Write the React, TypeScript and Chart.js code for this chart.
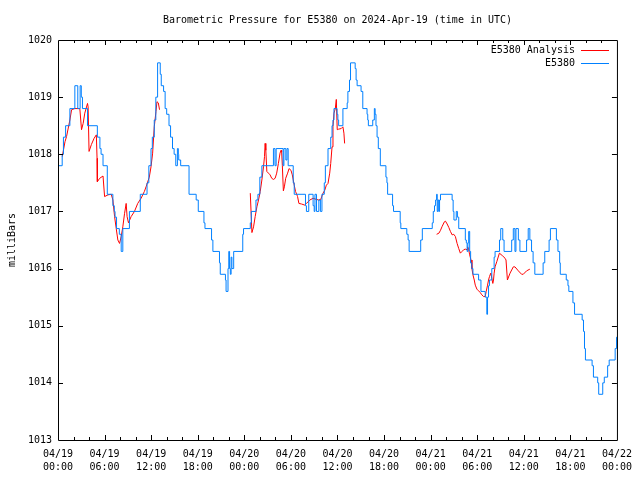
import { useEffect, useRef } from 'react';
import { Chart, registerables } from 'chart.js';

Chart.register(...registerables);

const FONT = "'DejaVu Sans Mono', 'Liberation Mono', monospace";

const chartTitle = 'Barometric Pressure for E5380 on 2024-Apr-19 (time in UTC)';
const yAxisLabel = 'milliBars';
const analysisLabel = 'E5380 Analysis';
const stationLabel = 'E5380';

// x in hours since 2024-04-19 00:00 UTC
const xTickHours = [0, 6, 12, 18, 24, 30, 36, 42, 48, 54, 60, 66, 72];
const xTickDates = ['04/19', '04/19', '04/19', '04/19', '04/20', '04/20', '04/20', '04/20', '04/21', '04/21', '04/21', '04/21', '04/22'];
const xTickTimes = ['00:00', '06:00', '12:00', '18:00', '00:00', '06:00', '12:00', '18:00', '00:00', '06:00', '12:00', '18:00', '00:00'];
const yTickValues = [1013, 1014, 1015, 1016, 1017, 1018, 1019, 1020];

// E5380 observations (value holds from each hour mark to the next)
const stationHours = [0, 0.54, 0.7, 0.98, 1.53, 2.17, 2.55, 2.85, 3.0, 3.15, 3.8, 5.07, 5.4, 5.55, 5.8, 6.35, 7.07, 7.25, 7.35, 7.54, 7.9, 8.14, 8.35, 9.2, 10.6, 11.47, 11.7, 11.98, 12.15, 12.4, 12.6, 12.83, 13.17, 13.3, 13.6, 13.8, 14.0, 14.3, 14.5, 14.75, 14.96, 15.17, 15.38, 15.5, 15.55, 15.8, 16.88, 17.8, 18.07, 18.8, 18.93, 19.78, 19.95, 20.8, 20.9, 21.57, 21.65, 21.9, 22.0, 22.1, 22.2, 22.3, 22.4, 22.63, 23.8, 23.9, 24.77, 24.9, 25.5, 25.75, 26.0, 26.26, 27.75, 27.95, 28.1, 29.0, 29.1, 29.35, 29.5, 29.65, 30.3, 30.43, 31.88, 32.0, 32.3, 32.86, 33.0, 33.1, 33.3, 33.6, 33.8, 34.0, 34.3, 34.44, 34.78, 35.13, 35.3, 35.42, 35.55, 35.95, 36.05, 36.15, 36.7, 37.25, 37.34, 37.55, 37.68, 38.28, 38.4, 38.53, 39.04, 39.26, 39.81, 39.9, 39.98, 40.54, 40.75, 40.85, 40.96, 41.1, 41.26, 41.52, 42.24, 42.37, 42.46, 43.1, 43.22, 44.08, 44.16, 44.93, 45.1, 45.23, 46.72, 46.93, 48.21, 48.34, 48.5, 48.64, 48.77, 48.85, 48.95, 49.05, 49.15, 49.27, 50.77, 50.9, 51.0, 51.3, 51.45, 51.62, 52.47, 52.6, 52.7, 52.8, 52.9, 53.03, 53.15, 53.3, 53.45, 54.18, 54.48, 55.03, 55.24, 55.33, 55.46, 55.58, 55.88, 56.18, 56.3, 56.87, 57.03, 57.29, 57.46, 58.44, 58.65, 58.86, 58.99, 59.3, 59.5, 60.36, 60.57, 60.78, 61.0, 61.2, 61.42, 62.49, 62.7, 63.26, 63.43, 64.2, 64.4, 64.62, 64.7, 65.47, 65.69, 65.8, 66.33, 66.54, 67.52, 67.69, 67.82, 67.94, 68.8, 68.97, 69.52, 69.65, 70.17, 70.37, 70.8, 71.0, 71.77, 71.95, 72.0];
const stationPressure = [1017.8, 1018.0, 1018.3, 1018.5, 1018.8, 1019.2, 1018.8, 1019.2, 1019.0, 1018.8, 1018.5, 1018.3, 1018.1, 1018.0, 1017.8, 1017.3, 1017.1, 1017.0, 1016.9, 1016.7, 1016.6, 1016.3, 1016.7, 1017.0, 1017.3, 1017.5, 1017.8, 1018.1, 1018.3, 1018.6, 1019.0, 1019.6, 1019.4, 1019.2, 1019.1, 1018.8, 1018.7, 1018.5, 1018.3, 1018.1, 1018.0, 1017.8, 1018.1, 1018.0, 1017.9, 1017.8, 1017.3, 1017.2, 1017.0, 1016.8, 1016.7, 1016.5, 1016.3, 1016.1, 1015.9, 1015.8, 1015.6, 1016.0, 1016.3, 1016.0, 1015.9, 1016.2, 1016.0, 1016.3, 1016.6, 1016.7, 1016.8, 1017.0, 1017.2, 1017.3, 1017.6, 1017.8, 1018.1, 1017.8, 1018.1, 1017.8, 1018.1, 1017.9, 1018.1, 1017.8, 1017.5, 1017.3, 1017.1, 1017.0, 1017.3, 1017.1, 1017.0, 1017.3, 1017.0, 1017.2, 1017.0, 1017.3, 1017.5, 1017.8, 1018.1, 1018.3, 1018.5, 1018.6, 1018.8, 1018.7, 1018.6, 1018.5, 1018.8, 1018.9, 1019.1, 1019.3, 1019.6, 1019.5, 1019.3, 1019.2, 1019.1, 1018.8, 1018.7, 1018.6, 1018.5, 1018.6, 1018.8, 1018.7, 1018.5, 1018.3, 1018.1, 1017.8, 1017.6, 1017.5, 1017.3, 1017.1, 1017.0, 1016.8, 1016.7, 1016.6, 1016.5, 1016.3, 1016.5, 1016.7, 1016.8, 1017.0, 1017.1, 1017.2, 1017.3, 1017.0, 1017.2, 1017.0, 1017.2, 1017.3, 1017.2, 1017.0, 1016.85, 1017.0, 1016.9, 1016.7, 1016.5, 1016.45, 1016.3, 1016.45, 1016.65, 1016.3, 1016.1, 1016.0, 1015.9, 1015.8, 1015.6, 1015.5, 1015.2, 1015.5, 1015.7, 1015.8, 1016.0, 1016.2, 1016.3, 1016.5, 1016.7, 1016.5, 1016.3, 1016.5, 1016.7, 1016.3, 1016.7, 1016.5, 1016.3, 1016.5, 1016.7, 1016.5, 1016.3, 1016.1, 1015.9, 1016.1, 1016.3, 1016.5, 1016.7, 1016.5, 1016.3, 1016.1, 1015.9, 1015.8, 1015.7, 1015.6, 1015.4, 1015.2, 1015.1, 1014.9, 1014.6, 1014.4, 1014.3, 1014.1, 1014.0, 1013.8, 1014.0, 1014.1, 1014.3, 1014.4, 1014.6, 1014.8, 1014.8];

// E5380 Analysis (null = no analysis data)
const analysisHours = [0.55, 0.9, 1.1, 1.53, 1.75, 2.17, 2.81, 3.03, 3.24, 3.45, 3.8, 3.88, 4.0, 4.3, 4.65, 4.94, 5.03, 5.07, 5.37, 5.8, 6.0, 6.44, 6.86, 7.07, 7.29, 7.5, 7.71, 7.93, 8.14, 8.35, 8.57, 8.78, 8.9, 9.08, 9.42, 9.85, 10.27, 10.7, 11.13, 11.34, 11.76, 11.98, 12.19, 12.4, 12.62, 12.75, 12.92, 13.08,
  18.0,
  24.77, 24.98, 25.19, 25.4, 25.62, 25.83, 26.05, 26.26, 26.47, 26.6, 26.68, 26.77, 26.9, 27.11, 27.32, 27.53, 27.75, 27.97, 28.17, 28.39, 28.6, 28.73, 28.81, 28.9, 29.03, 29.16, 29.33, 29.58, 29.76, 30.01, 30.18, 30.43, 30.6, 30.86, 31.03, 31.37, 31.8, 32.0, 32.44, 32.86, 33.29, 33.59, 33.84, 34.14, 34.36, 34.57, 34.78, 35.0, 35.13, 35.3, 35.42, 35.55, 35.72, 35.85, 35.97, 36.15, 36.48, 36.7, 36.83, 36.92,
  42.0,
  48.77, 49.07, 49.27, 49.49, 49.78, 49.91, 50.13, 50.34, 50.55, 50.77, 50.98, 51.19, 51.41, 51.62, 51.83, 52.05, 52.26, 52.47, 52.69, 52.77, 52.9, 53.03, 53.2, 53.32, 53.45, 53.62, 53.75, 53.96, 54.18, 54.39, 54.6, 54.82, 55.03, 55.16, 55.33, 55.46, 55.58, 55.75, 55.88, 56.01, 56.1, 56.18, 56.3, 56.52, 56.86, 57.29, 57.59, 57.71, 57.89, 58.23, 58.65, 58.86, 59.3, 59.72, 59.93, 60.36, 60.78];
const analysisPressure = [1017.96, 1018.22, 1018.31, 1018.6, 1018.78, 1018.8, 1018.8, 1018.43, 1018.54, 1018.72, 1018.89, 1018.83, 1018.05, 1018.17, 1018.28, 1018.34, 1017.93, 1017.52, 1017.58, 1017.62, 1017.26, 1017.29, 1017.3, 1017.2, 1016.91, 1016.7, 1016.5, 1016.44, 1016.56, 1016.73, 1016.96, 1017.14, 1016.91, 1016.8, 1016.91, 1017.0, 1017.14, 1017.23, 1017.35, 1017.43, 1017.6, 1017.78, 1018.02, 1018.48, 1018.75, 1018.92, 1018.9, 1018.78,
  null,
  1017.32, 1016.63, 1016.73, 1016.91, 1017.08, 1017.2, 1017.35, 1017.55, 1017.78, 1017.96, 1018.19, 1018.07, 1017.7, 1017.67, 1017.64, 1017.58, 1017.56, 1017.58, 1017.67, 1017.84, 1018.02, 1018.07, 1018.04, 1017.8, 1017.36, 1017.43, 1017.58, 1017.67, 1017.75, 1017.72, 1017.64, 1017.46, 1017.35, 1017.26, 1017.14, 1017.13, 1017.11, 1017.14, 1017.2, 1017.23, 1017.21, 1017.2, 1017.21, 1017.32, 1017.37, 1017.46, 1017.49, 1017.67, 1017.84, 1018.13, 1018.48, 1018.72, 1018.8, 1018.96, 1018.43, 1018.44, 1018.45, 1018.48, 1018.37, 1018.19,
  null,
  1016.6, 1016.62, 1016.67, 1016.74, 1016.82, 1016.83, 1016.78, 1016.72, 1016.65, 1016.59, 1016.6, 1016.56, 1016.44, 1016.35, 1016.27, 1016.3, 1016.33, 1016.34, 1016.33, 1016.38, 1016.33, 1016.24, 1016.15, 1016.0, 1015.89, 1015.8, 1015.71, 1015.64, 1015.61, 1015.58, 1015.54, 1015.51, 1015.51, 1015.6, 1015.71, 1015.8, 1015.86, 1015.92, 1015.83, 1015.74, 1015.8, 1015.92, 1016.03, 1016.12, 1016.27, 1016.22, 1016.18, 1016.15, 1015.8, 1015.92, 1016.03, 1016.03, 1015.96, 1015.9, 1015.9, 1015.96, 1015.99];

const RED = '#ff0000';
const BLUE = '#0080ff';

export default function App() {
  const canvasRef = useRef<HTMLCanvasElement>(null);

  useEffect(() => {
    document.body.style.margin = '0';
    const canvas = canvasRef.current;
    if (!canvas) return;

    const framePlugin = {
      id: 'gnuplotFrame',
      afterDraw(chart: any) {
        const { ctx, chartArea, scales } = chart;
        const { left, right, top, bottom } = chartArea;
        const xs = scales.x;
        const ys = scales.y;
        ctx.save();
        ctx.strokeStyle = '#000';
        ctx.lineWidth = 1;
        ctx.beginPath();
        ctx.rect(left + 0.5, top + 0.5, right - left, bottom - top);
        for (let h = 2; h < 72; h += 2) {
          const px = Math.round(xs.getPixelForValue(h)) + 0.5;
          const len = h % 6 === 0 ? 5 : 3;
          ctx.moveTo(px, bottom);
          ctx.lineTo(px, bottom - len);
          ctx.moveTo(px, top);
          ctx.lineTo(px, top + len);
        }
        for (const v of yTickValues) {
          if (v === 1013 || v === 1020) continue;
          const py = Math.round(ys.getPixelForValue(v)) + 0.5;
          ctx.moveTo(left, py);
          ctx.lineTo(left + 5, py);
          ctx.moveTo(right, py);
          ctx.lineTo(right - 5, py);
        }
        ctx.stroke();

        ctx.fillStyle = '#000';
        ctx.font = `10px ${FONT}`;
        ctx.textAlign = 'center';
        ctx.textBaseline = 'middle';
        ctx.fillText(chartTitle, (left + right) / 2, 20);

        ctx.save();
        ctx.translate(12.5, (top + bottom) / 2);
        ctx.rotate(-Math.PI / 2);
        ctx.fillText(yAxisLabel, 0, 0);
        ctx.restore();

        // key (legend)
        const entries = [
          { label: chart.data.datasets[1].label, color: chart.data.datasets[1].borderColor, y: 50 },
          { label: chart.data.datasets[0].label, color: chart.data.datasets[0].borderColor, y: 63 },
        ];
        ctx.textAlign = 'right';
        for (const e of entries) {
          ctx.fillStyle = '#000';
          ctx.fillText(e.label, 575, e.y);
          ctx.strokeStyle = e.color;
          ctx.beginPath();
          ctx.moveTo(581, e.y + 0.5);
          ctx.lineTo(609, e.y + 0.5);
          ctx.stroke();
        }
        ctx.restore();
      },
    };

    const chart = new Chart(canvas, {
      type: 'line',
      data: {
        datasets: [
          {
            label: stationLabel,
            data: stationHours.map((h, i) => ({ x: h, y: stationPressure[i] })),
            borderColor: BLUE,
            backgroundColor: BLUE,
            borderWidth: 1,
            stepped: 'before',
            pointRadius: 0,
            fill: false,
            order: 0,
          },
          {
            label: analysisLabel,
            data: analysisHours.map((h, i) => ({ x: h, y: analysisPressure[i] })),
            borderColor: RED,
            backgroundColor: RED,
            borderWidth: 1,
            pointRadius: 0,
            fill: false,
            spanGaps: false,
            order: 1,
          },
        ],
      },
      options: {
        responsive: false,
        animation: false,
        devicePixelRatio: 1,
        layout: { padding: { top: 40, right: 19, left: 0, bottom: 0 } },
        plugins: {
          legend: { display: false },
          title: { display: false },
          tooltip: { enabled: false },
        },
        elements: { point: { radius: 0 }, line: { tension: 0 } },
        scales: {
          x: {
            type: 'linear',
            min: 0,
            max: 72,
            grid: { display: false, drawTicks: false, tickLength: 0 },
            border: { display: false },
            afterFit: (s: any) => {
              s.height = 40;
            },
            afterBuildTicks: (s: any) => {
              s.ticks = xTickHours.map((v) => ({ value: v }));
            },
            ticks: {
              autoSkip: false,
              maxRotation: 0,
              minRotation: 0,
              padding: 8,
              color: '#000',
              font: { family: FONT, size: 10, lineHeight: 1.3 },
              callback: (_v: any, i: number) => [xTickDates[i], xTickTimes[i]],
            },
          },
          y: {
            type: 'linear',
            min: 1013,
            max: 1020,
            grid: { display: false, drawTicks: false, tickLength: 0 },
            border: { display: false },
            afterFit: (s: any) => {
              s.width = 58;
            },
            afterBuildTicks: (s: any) => {
              s.ticks = yTickValues.map((v) => ({ value: v }));
            },
            ticks: {
              padding: 6,
              color: '#000',
              font: { family: FONT, size: 10 },
              callback: (v: any) => String(v),
            },
          },
        },
      },
      plugins: [framePlugin],
    } as any);

    return () => chart.destroy();
  }, []);

  return (
    <div style={{ position: 'absolute', left: 0, top: 0, width: 640, height: 480 }}>
      <canvas ref={canvasRef} width={640} height={480} style={{ display: 'block' }} />
    </div>
  );
}
